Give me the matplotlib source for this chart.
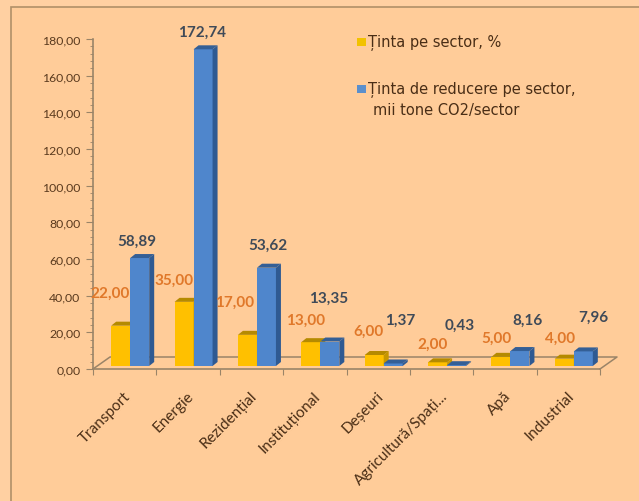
import matplotlib
matplotlib.use('Agg')
import matplotlib.pyplot as plt
import numpy as np
from matplotlib.patches import Rectangle

categories = ['Transport', 'Energie', 'Rezidențial', 'Instituțional', 'Deșeuri',
              'Agricultură/Spați...', 'Apă', 'Industrial']
target_pct = [22.00, 35.00, 17.00, 13.00, 6.00, 2.00, 5.00, 4.00]
target_co2 = [58.89, 172.74, 53.62, 13.35, 1.37, 0.43, 8.16, 7.96]
yticks = [0, 20, 40, 60, 80, 100, 120, 140, 160, 180]
# where the value labels sit, in axis units
pct_label_x = [0.27, 1.28, 2.24, 3.35, 4.34, 5.36, 6.36, 7.37]
pct_label_y = [41.5, 48.5, 36.5, 26.7, 20.7, 14, 17, 17]
co2_label_x = [0.69, 1.72, 2.76, 3.71, 4.84, 5.78, 6.85, 7.89]
co2_label_y = [70, 184, 68, 38.7, 26.7, 24, 26.7, 28.4]

W, H = 639, 502
BG = '#FFCC99'
YEL, YEL_TOP = '#FFC000', '#B58A00'
BLUE, BLUE_SIDE, BLUE_TOP = '#4F86CC', '#2F5A92', '#345F96'
AXC = '#9A8468'
LINE = '#B09068'

plt.rcParams['font.family'] = ['Lato', 'DejaVu Sans']
fig = plt.figure(figsize=(W / 100, H / 100), dpi=100, facecolor='#FFD0A2')

# slide panel, only its left and top edges show in the picture
fig.add_artist(Rectangle((11 / W, -0.1), 1, 1.1 - 8 / H, transform=fig.transFigure, facecolor=BG,
                         edgecolor=LINE, lw=1.2, zorder=-1))

ax = fig.add_axes([93 / W, 1 - 370 / H, 507 / W, 330 / H])
ax.patch.set_alpha(0)
ax.set_xlim(0, 8)
ax.set_ylim(0, 180)
for s in ['top', 'right']:
    ax.spines[s].set_visible(False)
for s in ['left', 'bottom']:
    ax.spines[s].set_color(AXC)
    ax.spines[s].set_linewidth(1.2)

# pixel sizes to data units
px = 8 / 507
py = 180 / 330

# back edge of the floor
dx, dy = 17 * px, 12 * py
ax.plot([0, dx, 8 + dx, 8], [0, dy, dy, 0], color=AXC, lw=1.1, clip_on=False, zorder=1)

x = np.arange(8) + 0.5
bw = 19 * px
shift = 5.5 * px
base = 3 * py
ddx, ddy = 5 * px, 4 * py


def bar3d(left, val, front, side, top):
    ax.bar(left, val, bw, bottom=base, align='edge', color=front, zorder=3)
    r = left + bw
    t = base + val
    ax.fill([r, r + ddx, r + ddx, r], [base, base + ddy, t + ddy, t], color=side, lw=0, zorder=3)
    ax.fill([left, left + ddx, r + ddx, r], [t, t + ddy, t + ddy, t], color=top, lw=0, zorder=3)


for i in range(8):
    bar3d(x[i] + shift - bw, target_pct[i], YEL, '#C79600', YEL_TOP)
    bar3d(x[i] + shift, target_co2[i], BLUE, BLUE_SIDE, BLUE_TOP)
    ax.text(pct_label_x[i], pct_label_y[i], ('%.2f' % target_pct[i]).replace('.', ','),
            color='#E0782A', fontsize=11, fontweight='bold', ha='center', va='center', zorder=4)
    ax.text(co2_label_x[i], co2_label_y[i], ('%.2f' % target_co2[i]).replace('.', ','),
            color='#3F4A58', fontsize=11, fontweight='bold', ha='center', va='center', zorder=4,
            clip_on=False)

ax.set_yticks(yticks)
ax.set_yticklabels([('%.2f' % v).replace('.', ',') for v in yticks], fontsize=8.8, color='#5A3A1E')
ax.set_yticks(np.arange(0, 181, 4), minor=True)
ax.tick_params(axis='y', which='major', length=5, color=AXC, pad=4)
ax.tick_params(axis='y', which='minor', length=2, color=AXC)
ax.set_xticks(np.arange(9))
ax.set_xticklabels([])
ax.tick_params(axis='x', length=4, color=AXC)

for i, c in enumerate(categories):
    ax.annotate(c, (x[i] - 0.02, 0), xytext=(0, -14), textcoords='offset points', rotation=45,
                rotation_mode='anchor', ha='right', va='top', fontsize=11, color='#4A2E16')

# legend drawn by hand, like the pasted text in the slide
leg_font = ['DejaVu Sans']
fig.add_artist(Rectangle((357 / W, 1 - 47 / H), 9 / W, 8 / H, transform=fig.transFigure,
                         facecolor='#F2C200', edgecolor='none'))
fig.add_artist(Rectangle((357 / W, 1 - 94 / H), 9 / W, 8 / H, transform=fig.transFigure,
                         facecolor='#5B8FCC', edgecolor='none'))
fig.text(368 / W, 1 - 43 / H, 'Ținta pe sector, %', color='#4A2E16', fontsize=10.5,
         va='center', family=leg_font)
fig.text(368 / W, 1 - 90 / H, 'Ținta de reducere pe sector,', color='#4A2E16', fontsize=10.5,
         va='center', family=leg_font)
fig.text(373 / W, 1 - 110 / H, 'mii tone CO2/sector', color='#4A2E16', fontsize=10.5,
         va='center', family=leg_font)

fig.savefig('out.png', dpi=100, facecolor=fig.get_facecolor())
